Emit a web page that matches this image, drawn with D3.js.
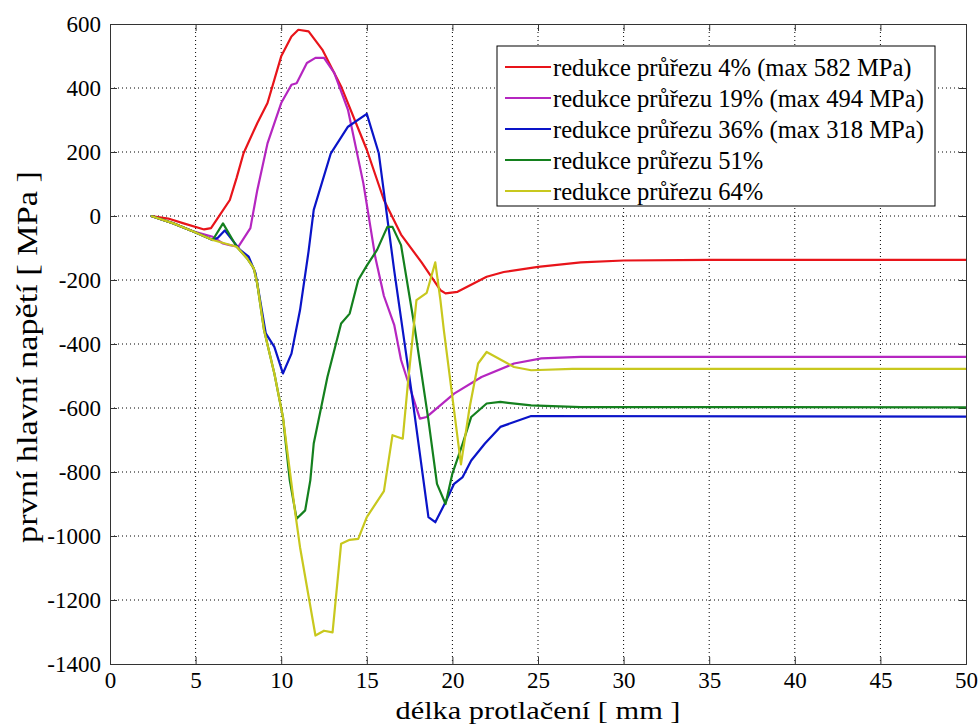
<!DOCTYPE html>
<html>
<head>
<meta charset="utf-8">
<script src="https://cdn.jsdelivr.net/npm/d3@7/dist/d3.min.js"></script>
<style>
	body { margin: 0; background: #fff; }
	svg text { fill: #000; }
</style>
</head>
<body>
<div id="chart"></div>
<script>
const serifFont = "'Liberation Serif', 'Times New Roman', serif";

const xTicks = [0, 5, 10, 15, 20, 25, 30, 35, 40, 45, 50];
const yTicks = [600, 400, 200, 0, -200, -400, -600, -800, -1000, -1200, -1400];

const legendLabels = [
	"redukce průřezu 4% (max 582 MPa)",
	"redukce průřezu 19% (max 494 MPa)",
	"redukce průřezu 36% (max 318 MPa)",
	"redukce průřezu 51%",
	"redukce průřezu 64%"
];
const seriesColors = ["#e8141a", "#b526c0", "#0a14c8", "#14801e", "#c8c81e"];

const red = [[2.4,0],[3.4,-8],[4.3,-23],[5.5,-42],[5.9,-38],[6.4,2],[7.0,50],[7.4,120],[7.8,196],[8.6,290],[9.2,353],[10.0,499],[10.6,561],[11.0,582],[11.6,577],[12.4,520],[13.5,405],[15.0,207],[16.0,50],[17.0,-58],[18.2,-145],[19.3,-232],[19.6,-242],[20.3,-237],[22.0,-190],[23.0,-175],[25.0,-159],[27.5,-145],[30.0,-139],[35,-137],[50,-137]];

const magenta = [[2.4,0],[3.7,-23],[4.9,-49],[6.0,-65],[6.6,-86],[7.0,-91],[7.5,-96],[8.2,-38],[8.6,80],[9.2,227],[10.0,353],[10.6,410],[10.9,415],[11.5,478],[12.0,494],[12.5,494],[13.1,447],[13.9,332],[14.8,102],[15.5,-130],[16.0,-250],[16.6,-340],[17.0,-450],[17.6,-550],[18.1,-633],[18.5,-628],[20.1,-555],[21.7,-503],[23.6,-461],[25.2,-445],[27.5,-440],[50,-440]];

const blue = [[2.4,0],[3.7,-23],[4.9,-49],[6.0,-75],[6.3,-68],[6.7,-45],[7.6,-106],[8.1,-127],[8.5,-179],[9.1,-367],[9.6,-409],[10.1,-492],[10.6,-430],[11.1,-294],[11.6,-110],[11.9,19],[12.9,196],[13.9,279],[15.0,319],[15.7,196],[16.6,-170],[17.6,-545],[18.6,-941],[19.0,-957],[19.6,-894],[20.1,-837],[20.6,-816],[21.1,-764],[21.9,-711],[22.8,-659],[24.6,-625],[50,-627]];

const green = [[2.4,0],[3.7,-23],[4.9,-49],[6.0,-75],[6.6,-23],[7.4,-96],[8.0,-132],[8.4,-164],[8.6,-211],[9.0,-357],[9.6,-492],[10.1,-628],[10.5,-826],[10.9,-946],[11.4,-920],[11.7,-826],[11.9,-711],[12.7,-503],[13.5,-336],[14.0,-305],[14.5,-200],[15.0,-155],[15.6,-106],[16.2,-34],[16.5,-34],[17.0,-91],[17.8,-350],[18.6,-638],[19.1,-837],[19.6,-900],[20.0,-805],[20.6,-711],[21.1,-628],[22.0,-586],[22.8,-581],[24.6,-592],[27.5,-597],[50,-598]];

const yellow = [[2.4,0],[3.7,-23],[4.9,-49],[6.0,-75],[7.4,-96],[8.0,-132],[8.4,-164],[8.6,-211],[9.0,-357],[9.6,-492],[10.1,-628],[10.8,-920],[11.1,-1035],[12.0,-1311],[12.5,-1296],[13.0,-1301],[13.5,-1024],[14.0,-1012],[14.5,-1009],[15.0,-941],[16.0,-860],[16.5,-685],[17.1,-696],[17.4,-524],[17.9,-263],[18.5,-240],[19.0,-145],[19.3,-263],[19.5,-357],[19.7,-440],[20.5,-776],[21.0,-600],[21.5,-461],[22.0,-425],[23.6,-472],[24.6,-482],[27.0,-478],[50,-478]];

const allSeries = [red, magenta, blue, green, yellow];

const width = 980, height = 724;
const margin = { top: 24, right: 14, bottom: 60, left: 110 };
const w = width - margin.left - margin.right;
const h = height - margin.top - margin.bottom;

const svg = d3.select('#chart').append('svg')
	.attr('width', width)
	.attr('height', height)
	.attr('font-family', serifFont);

const g = svg.append('g')
	.attr('transform', `translate(${margin.left}, ${margin.top})`);

const x = d3.scaleLinear().domain([0, 50]).range([0, w]);
const y = d3.scaleLinear().domain([-1400, 600]).range([h, 0]);

// dotted grid
g.append('g')
	.selectAll('line')
	.data(xTicks.slice(1, -1))
	.enter()
	.append('line')
		.attr('x1', d => x(d)).attr('x2', d => x(d))
		.attr('y1', 0).attr('y2', h)
		.style('stroke', '#000')
		.style('stroke-width', 1)
		.style('stroke-dasharray', '1,3');

g.append('g')
	.selectAll('line')
	.data(yTicks.slice(1, -1))
	.enter()
	.append('line')
		.attr('x1', 0).attr('x2', w)
		.attr('y1', d => y(d)).attr('y2', d => y(d))
		.style('stroke', '#000')
		.style('stroke-width', 1)
		.style('stroke-dasharray', '1,3');

// axes with inner ticks, box like matlab
const fmt = d => String(d);
const xAxis = d3.axisBottom(x).tickValues(xTicks).tickSize(-7).tickPadding(8).tickFormat(fmt);
const yAxis = d3.axisLeft(y).tickValues(yTicks).tickSize(-7).tickPadding(9).tickFormat(fmt);

const styleAxis = sel => {
	sel.attr('font-family', serifFont).attr('font-size', 23);
	sel.selectAll('path').style('stroke', '#333');
	sel.selectAll('line').style('stroke', '#333');
	sel.selectAll('text').style('font-size', '23px');
};

g.append('g')
	.attr('transform', `translate(0, ${h})`)
	.call(xAxis)
	.call(styleAxis);

g.append('g')
	.call(yAxis)
	.call(styleAxis);

g.append('g')
	.call(d3.axisTop(x).tickValues(xTicks).tickSize(-7).tickFormat(''))
	.call(styleAxis);

g.append('g')
	.attr('transform', `translate(${w}, 0)`)
	.call(d3.axisRight(y).tickValues(yTicks).tickSize(-7).tickFormat(''))
	.call(styleAxis);

// lines
const line = d3.line()
	.x(d => x(d[0]))
	.y(d => y(d[1]));

g.append('g')
	.selectAll('path')
	.data(allSeries)
	.enter()
	.append('path')
		.attr('d', line)
		.style('fill', 'none')
		.style('stroke', (d, i) => seriesColors[i])
		.style('stroke-width', 2.2)
		.style('stroke-linejoin', 'round');

// legend
const legend = svg.append('g')
	.attr('transform', 'translate(497, 46)');

legend.append('rect')
	.attr('width', 438)
	.attr('height', 160)
	.style('fill', '#fff')
	.style('stroke', '#000')
	.style('stroke-width', 1);

const items = legend.selectAll('.item')
	.data(legendLabels)
	.enter()
	.append('g')
		.attr('transform', (d, i) => `translate(0, ${21 + i * 31})`);

items.append('line')
	.attr('x1', 8).attr('x2', 54)
	.style('stroke', (d, i) => seriesColors[i])
	.style('stroke-width', 2);

items.append('text')
	.attr('x', 56)
	.attr('dy', '0.35em')
	.style('font-size', '24.6px')
	.text(d => d);

// axis titles
svg.append('text')
	.attr('x', 538)
	.attr('y', 719)
	.attr('text-anchor', 'middle')
	.attr('textLength', 285)
	.attr('lengthAdjust', 'spacingAndGlyphs')
	.style('font-size', '26px')
	.text('délka protlačení [ mm ]');

svg.append('text')
	.attr('transform', 'translate(37, 357) rotate(-90)')
	.attr('text-anchor', 'middle')
	.attr('textLength', 372)
	.attr('lengthAdjust', 'spacingAndGlyphs')
	.style('font-size', '30px')
	.text('první hlavní napětí [ MPa ]');
</script>
</body>
</html>
